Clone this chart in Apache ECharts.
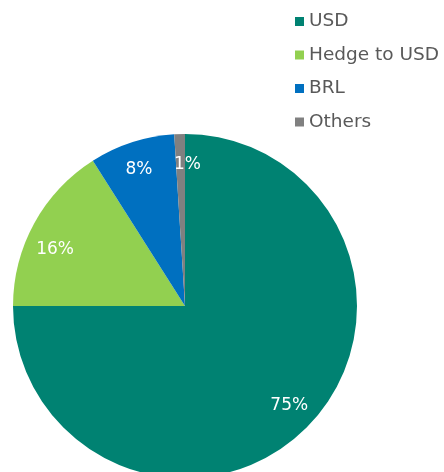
<!DOCTYPE html>
<html>
<head>
<meta charset="utf-8">
<script src="https://cdn.jsdelivr.net/npm/echarts@6/dist/echarts.min.js"></script>
<style>
  html, body { margin: 0; padding: 0; background: #ffffff; }
  #chart { width: 444px; height: 472px; }
</style>
</head>
<body>
<div id="chart"></div>
<script>
// Currency breakdown (% of total)
const categories = ['USD', 'Hedge to USD', 'BRL', 'Others'];
const shares = [75, 16, 8, 1];
const colors = ['#008272', '#92d050', '#0070c0', '#808080'];

const fontFamily = '"DejaVu Sans", "Liberation Sans", Arial, sans-serif';
const center = [185, 306];
const outerRadius = 172;

// small per-slice nudges for label placement
const labelOffsets = [[1, -4], [-2, 14], [-1, 2], [7, 5]];

const sliceData = categories.map((name, i) => ({
  name,
  value: shares[i],
  itemStyle: { color: colors[i] }
}));

const labelData = categories.map((name, i) => ({
  name,
  value: shares[i],
  label: { offset: labelOffsets[i] }
}));

const chart = echarts.init(document.getElementById('chart'), null, { renderer: 'canvas' });
chart.setOption({
  animation: false,
  backgroundColor: '#ffffff',
  legend: {
    orient: 'vertical',
    left: 295,
    top: 12,
    icon: 'rect',
    itemWidth: 9,
    itemHeight: 9,
    itemGap: 14.5,
    padding: 0,
    data: categories,
    textStyle: { color: '#595959', fontSize: 18.5, fontFamily }
  },
  series: [
    {
      type: 'pie',
      name: 'slices',
      center,
      radius: [0, outerRadius],
      startAngle: 90,
      clockwise: true,
      label: { show: false },
      labelLine: { show: false },
      emphasis: { disabled: true },
      data: sliceData
    },
    {
      // transparent ring used only to place the percentage labels
      type: 'pie',
      name: 'labels',
      center,
      radius: [114, outerRadius],
      startAngle: 90,
      clockwise: true,
      silent: true,
      legendHoverLink: false,
      itemStyle: { color: 'rgba(0,0,0,0)' },
      label: {
        show: true,
        position: 'inside',
        formatter: p => p.value + '%',
        color: '#ffffff',
        fontSize: 17,
        fontFamily
      },
      labelLine: { show: false },
      emphasis: { disabled: true },
      data: labelData
    }
  ]
});
</script>
</body>
</html>
